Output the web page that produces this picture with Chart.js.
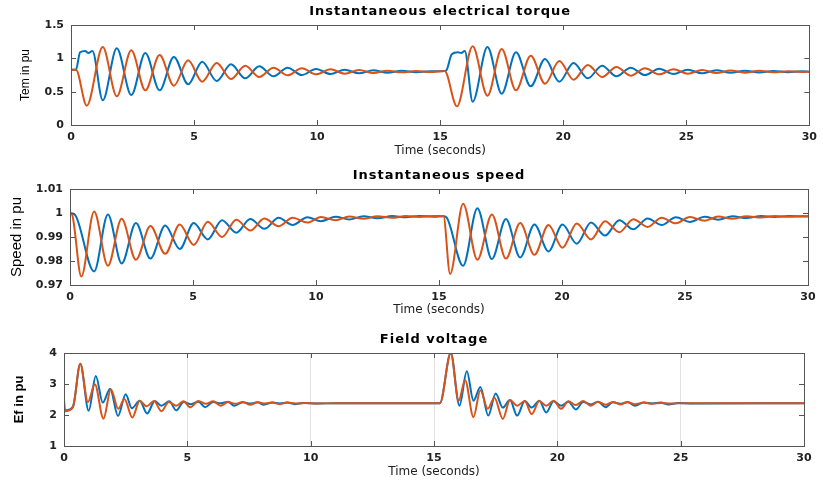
<!DOCTYPE html>
<html>
<head>
<meta charset="utf-8">
<title>Torque, speed and field voltage</title>
<script src="https://cdn.jsdelivr.net/npm/chart.js@4.4.0/dist/chart.umd.min.js"></script>
<style>
  html, body { margin: 0; padding: 0; background: #fff; }
  #wrap { position: relative; width: 823px; height: 483px; overflow: hidden; }
  .panel { position: absolute; left: 0; width: 823px; }
</style>
</head>
<body>
<div id="wrap">
  <div class="panel" style="top:0;height:160px"><canvas id="torqueChart"></canvas></div>
  <div class="panel" style="top:160px;height:160px"><canvas id="speedChart"></canvas></div>
  <div class="panel" style="top:325px;height:158px"><canvas id="fieldChart"></canvas></div>
</div>
<script>
// time axis (seconds)
const timeTicks = [0, 5, 10, 15, 20, 25, 30];

// electrical torque, pu  [t, value]
const torqueBlue = [
  [0,0.83],[0.2,0.83],[0.37,1.09],[0.57,1.11],[0.71,1.08],[0.87,1.11],[1.29,0.37],[1.86,1.15],
  [2.45,0.45],[3.02,1.08],[3.60,0.52],[4.18,1.02],[4.76,0.61],[5.33,0.95],[5.92,0.66],[6.50,0.91],
  [7.08,0.70],[7.65,0.88],[8.23,0.73],[8.80,0.86],[9.38,0.75],[9.96,0.84],[10.54,0.765],[11.12,0.83],
  [11.70,0.775],[12.28,0.82],[12.86,0.785],[13.44,0.812],[14.02,0.792],[14.60,0.806],[15.18,0.81],
  [15.27,0.83],[15.47,1.06],[15.72,1.09],[15.85,1.08],[16.0,1.11],[16.32,0.35],[16.92,1.17],
  [17.5,0.47],[18.08,1.09],[18.68,0.58],[19.26,0.99],[19.84,0.65],[20.42,0.93],[21.0,0.70],
  [21.58,0.89],[22.16,0.73],[22.74,0.86],[23.32,0.75],[23.9,0.845],[24.48,0.765],[25.06,0.83],
  [25.64,0.775],[26.22,0.822],[26.8,0.782],[27.38,0.815],[27.96,0.788],[28.54,0.81],[29.12,0.792],
  [29.7,0.805],[30,0.80]
];
const torqueOrange = [
  [0,0.83],[0.2,0.83],[0.64,0.29],[1.29,1.17],[1.86,0.43],[2.45,1.12],[3.02,0.52],[3.60,1.05],
  [4.18,0.59],[4.76,0.97],[5.33,0.65],[5.92,0.93],[6.50,0.69],[7.08,0.89],[7.65,0.72],[8.23,0.86],
  [8.80,0.745],[9.38,0.85],[9.96,0.76],[10.54,0.835],[11.12,0.77],[11.70,0.825],[12.28,0.78],
  [12.86,0.815],[13.44,0.79],[14.02,0.81],[14.60,0.795],[15.18,0.81],[15.68,0.28],[16.32,1.18],
  [16.92,0.44],[17.5,1.14],[18.08,0.52],[18.68,1.04],[19.26,0.62],[19.84,0.96],[20.42,0.68],
  [21.0,0.90],[21.58,0.72],[22.16,0.87],[22.74,0.74],[23.32,0.85],[23.9,0.76],[24.48,0.835],
  [25.06,0.77],[25.64,0.825],[26.22,0.78],[26.8,0.818],[27.38,0.785],[27.96,0.812],[28.54,0.79],
  [29.12,0.808],[29.7,0.795],[30,0.80]
];
const torqueTicks = [0, 0.5, 1, 1.5];

// rotor speed, pu
const speedBlue = [
  [0,1.0],[0.2,0.9993],[0.98,0.9756],[1.54,0.9994],[2.10,0.979],[2.68,0.9958],[3.27,0.981],
  [3.87,0.9948],[4.46,0.985],[5.03,0.9958],[5.60,0.989],[6.18,0.997],[6.76,0.9918],[7.33,0.9975],
  [7.90,0.9934],[8.48,0.998],[9.05,0.995],[9.65,0.9982],[10.2,0.9966],[10.8,0.9984],[11.35,0.9973],
  [11.93,0.9986],[12.5,0.9978],[13.1,0.9987],[13.65,0.9982],[14.2,0.9988],[14.8,0.9984],[15.18,0.9986],
  [15.3,0.9982],[15.98,0.978],[16.56,1.002],[17.15,0.9808],[17.72,0.9975],[18.30,0.9815],
  [18.88,0.9952],[19.45,0.984],[20.02,0.9952],[20.6,0.9872],[21.18,0.996],[21.75,0.9906],
  [22.33,0.997],[22.9,0.9932],[23.48,0.9977],[24.05,0.995],[24.63,0.9982],[25.2,0.9963],
  [25.8,0.9984],[26.35,0.9972],[26.93,0.9986],[27.5,0.9979],[28.1,0.9987],[28.65,0.9983],
  [29.23,0.9987],[29.8,0.9985],[30,0.9986]
];
const speedOrange = [
  [0,1.0],[0.08,0.9995],[0.46,0.9735],[0.98,1.0006],[1.54,0.978],[2.10,0.9976],[2.68,0.9805],
  [3.27,0.9946],[3.87,0.983],[4.46,0.9952],[5.03,0.9867],[5.60,0.9964],[6.18,0.990],[6.76,0.9972],
  [7.33,0.9927],[7.90,0.9977],[8.48,0.9945],[9.05,0.998],[9.65,0.996],[10.2,0.9983],[10.8,0.997],
  [11.35,0.9985],[11.93,0.9976],[12.5,0.9986],[13.1,0.998],[13.65,0.9987],[14.2,0.9983],
  [14.8,0.9987],[15.18,0.9987],[15.45,0.9746],[15.98,1.0039],[16.56,0.9805],[17.15,0.9994],
  [17.72,0.981],[18.30,0.9958],[18.88,0.9826],[19.45,0.995],[20.02,0.9855],[20.6,0.9956],
  [21.18,0.989],[21.75,0.9966],[22.33,0.992],[22.9,0.9974],[23.48,0.9942],[24.05,0.998],
  [24.63,0.9957],[25.2,0.9983],[25.8,0.9968],[26.35,0.9985],[26.93,0.9976],[27.5,0.9986],
  [28.1,0.9981],[28.65,0.9987],[29.23,0.9984],[29.8,0.9987],[30,0.9986]
];
const speedTicks = [0.97, 0.98, 0.99, 1, 1.01];

// field voltage Ef, pu
const fieldBlue = [
  [0,2.2],[0.05,2.15],[0.2,2.17],[0.38,2.3],[0.66,3.65],[1.0,2.14],[1.29,3.26],[1.57,2.4],
  [1.87,2.85],[2.19,1.97],[2.5,2.67],[2.75,2.22],[3.07,2.46],[3.37,2.05],[3.68,2.45],[3.95,2.3],
  [4.27,2.44],[4.55,2.15],[4.85,2.42],[5.15,2.35],[5.45,2.43],[5.72,2.25],[6.05,2.42],[6.35,2.38],
  [6.65,2.43],[6.9,2.3],[7.25,2.41],[7.55,2.37],[7.85,2.41],[8.1,2.33],[8.45,2.4],[8.75,2.37],
  [9.05,2.4],[9.35,2.35],[9.7,2.39],[10.3,2.37],[11,2.38],[15.24,2.38],[15.68,4.0],[16.03,2.3],
  [16.33,3.41],[16.6,2.46],[16.88,2.9],[17.2,1.98],[17.5,2.69],[17.79,2.24],[18.08,2.48],
  [18.37,1.98],[18.68,2.45],[18.96,2.24],[19.27,2.46],[19.55,2.08],[19.85,2.44],[20.15,2.3],
  [20.45,2.43],[20.75,2.18],[21.05,2.42],[21.35,2.34],[21.65,2.43],[21.95,2.25],[22.25,2.41],
  [22.55,2.36],[22.85,2.42],[23.15,2.3],[23.5,2.4],[23.85,2.37],[24.2,2.4],[24.5,2.34],
  [24.9,2.39],[25.5,2.37],[30,2.38]
];
const fieldOrange = [
  [0,2.5],[0.05,2.12],[0.2,2.15],[0.38,2.3],[0.66,3.65],[0.97,2.42],[1.25,2.99],[1.6,1.88],
  [1.9,2.83],[2.2,2.2],[2.45,2.52],[2.77,1.92],[3.07,2.46],[3.35,2.28],[3.65,2.45],[3.95,2.12],
  [4.25,2.42],[4.55,2.3],[4.85,2.44],[5.12,2.25],[5.45,2.45],[5.75,2.36],[6.05,2.44],[6.35,2.3],
  [6.65,2.42],[6.95,2.36],[7.25,2.42],[7.55,2.33],[7.85,2.41],[8.15,2.37],[8.45,2.4],[8.75,2.35],
  [9.05,2.4],[9.4,2.37],[9.8,2.39],[10.2,2.37],[11,2.38],[15.24,2.38],[15.68,4.0],[16.0,2.46],
  [16.26,3.12],[16.6,1.93],[16.88,2.8],[17.18,2.2],[17.45,2.56],[17.79,1.87],[18.08,2.48],
  [18.37,2.3],[18.68,2.45],[18.96,2.03],[19.27,2.45],[19.55,2.3],[19.85,2.46],[20.15,2.2],
  [20.45,2.44],[20.75,2.32],[21.05,2.45],[21.35,2.3],[21.65,2.43],[21.95,2.33],[22.25,2.42],
  [22.55,2.34],[22.85,2.41],[23.15,2.35],[23.5,2.4],[23.85,2.36],[24.2,2.39],[24.6,2.37],
  [25.2,2.38],[30,2.38]
];
const fieldTicks = [1, 2, 3, 4];

const BLUE = '#0072BD';
const ORANGE = '#D95319';
const TICK_FONT = { family: '"DejaVu Sans", sans-serif', size: 11, weight: 'bold' };

// box around the axes with inward ticks, title and y label
const axesBox = {
  id: 'axesBox',
  afterDraw(chart, args, opts) {
    const { ctx, chartArea: a, scales } = chart;
    ctx.save();
    ctx.strokeStyle = '#555';
    ctx.lineWidth = 1;
    ctx.beginPath();
    scales.x.ticks.forEach(t => {
      const px = Math.round(scales.x.getPixelForValue(t.value)) + 0.5;
      ctx.moveTo(px, a.bottom); ctx.lineTo(px, a.bottom - 5);
      ctx.moveTo(px, a.top); ctx.lineTo(px, a.top + 5);
    });
    scales.y.ticks.forEach(t => {
      const py = Math.round(scales.y.getPixelForValue(t.value)) + 0.5;
      ctx.moveTo(a.left, py); ctx.lineTo(a.left + 5, py);
      ctx.moveTo(a.right, py); ctx.lineTo(a.right - 5, py);
    });
    ctx.stroke();
    ctx.strokeRect(Math.round(a.left) + 0.5, Math.round(a.top) + 0.5,
                   Math.round(a.right - a.left), Math.round(a.bottom - a.top));

    ctx.fillStyle = '#000';
    ctx.textAlign = 'center';
    ctx.textBaseline = 'middle';
    ctx.font = 'bold 13px "DejaVu Sans", sans-serif';
    ctx.letterSpacing = '1px';
    ctx.fillText(opts.title, (a.left + a.right) / 2, a.top - 13);
    ctx.letterSpacing = '0px';

    ctx.translate(opts.labelX, (a.top + a.bottom) / 2);
    ctx.rotate(-Math.PI / 2);
    ctx.font = opts.labelFont;
    ctx.fillText(opts.label, 0, 0);
    ctx.restore();
  }
};

function makeChart(id, cfg) {
  const H = cfg.height;
  return new Chart(document.getElementById(id), {
    type: 'line',
    data: {
      datasets: [
        { data: cfg.orange.map(p => ({ x: p[0], y: p[1] })), borderColor: ORANGE },
        { data: cfg.blue.map(p => ({ x: p[0], y: p[1] })), borderColor: BLUE }
      ]
    },
    options: {
      responsive: true,
      maintainAspectRatio: false,
      animation: false,
      layout: { padding: { left: 0, top: cfg.top, right: 823 - cfg.right, bottom: 0 } },
      elements: {
        point: { radius: 0 },
        line: { borderWidth: 2, cubicInterpolationMode: 'monotone', fill: false }
      },
      plugins: {
        legend: { display: false },
        tooltip: { enabled: false },
        axesBox: { title: cfg.title, label: cfg.label, labelX: cfg.labelX, labelFont: cfg.labelFont }
      },
      scales: {
        x: {
          type: 'linear',
          min: 0, max: 30,
          afterBuildTicks: s => { s.ticks = timeTicks.map(v => ({ value: v })); },
          afterFit: s => { s.height = H - cfg.bottom; },
          grid: { display: cfg.grid, drawTicks: false, color: '#e2e2e2' },
          border: { display: false },
          ticks: { font: TICK_FONT, color: '#222', padding: 6, maxRotation: 0,
                   callback: v => String(v) },
          title: {
            display: true, text: 'Time (seconds)', color: '#222',
            font: { family: '"DejaVu Sans", sans-serif', size: 12 },
            padding: { top: 0, bottom: cfg.xTitlePad }
          }
        },
        y: {
          min: cfg.yTicks[0], max: cfg.yTicks[cfg.yTicks.length - 1],
          afterBuildTicks: s => { s.ticks = cfg.yTicks.map(v => ({ value: v })); },
          afterFit: s => { s.width = cfg.left; },
          grid: { display: false, drawTicks: false },
          border: { display: false },
          ticks: { font: TICK_FONT, color: '#222', padding: 7,
                   callback: v => String(v) }
        }
      }
    },
    plugins: [axesBox]
  });
}

makeChart('torqueChart', {
  height: 160, top: 25, bottom: 125, left: 71, right: 811, xTitlePad: 2,
  title: 'Instantaneous electrical torque', label: 'Tem in pu', labelX: 26,
  labelFont: '12px "Liberation Sans Narrow", "Liberation Sans", sans-serif',
  blue: torqueBlue, orange: torqueOrange, yTicks: torqueTicks, grid: false
});
makeChart('speedChart', {
  height: 160, top: 29, bottom: 125, left: 70, right: 808, xTitlePad: 3,
  title: 'Instantaneous speed', label: 'Speed in pu', labelX: 17,
  labelFont: '15px "Liberation Sans Narrow", "Liberation Sans", sans-serif',
  blue: speedBlue, orange: speedOrange, yTicks: speedTicks, grid: false
});
makeChart('fieldChart', {
  height: 158, top: 28, bottom: 121, left: 64, right: 804, xTitlePad: 4,
  title: 'Field voltage', label: 'Ef in pu', labelX: 19,
  labelFont: 'bold 13px "Liberation Sans Narrow", "Liberation Sans", sans-serif',
  blue: fieldBlue, orange: fieldOrange, yTicks: fieldTicks, grid: true
});
</script>
</body>
</html>
